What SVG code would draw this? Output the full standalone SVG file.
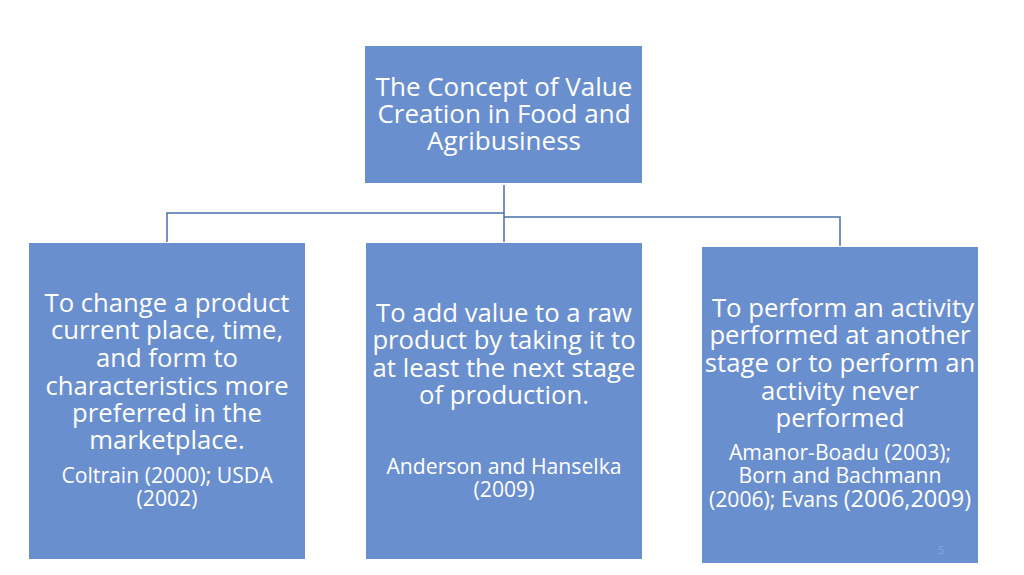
<svg xmlns="http://www.w3.org/2000/svg" width="1024" height="575" viewBox="0 0 1024 575">
<style>
.box{fill:#6a8fcf;}
.t{font-family:"Open Sans","Noto Sans","DejaVu Sans",sans-serif;fill:#ffffff;text-anchor:middle;font-size:25.7px;}
.h{font-size:26px;}
.c{font-family:"Open Sans","Noto Sans","DejaVu Sans",sans-serif;fill:#ffffff;text-anchor:middle;font-size:21.2px;}
.ln{stroke:#4a70aa;stroke-width:1.5;fill:none;}
</style>
<rect width="1024" height="575" fill="#ffffff"/>
<g id="connectors">
<path class="ln" d="M504,185 V242"/>
<path class="ln" d="M504,213 H167 V242"/>
<path class="ln" d="M504,217 H840 V246"/>
</g>
<g id="root">
<rect class="box" x="365" y="46" width="277" height="137"/>
<text class="t h"><tspan x="504" y="96">The Concept of Value</tspan><tspan x="504" y="123">Creation in Food and</tspan><tspan x="504" y="150">Agribusiness</tspan></text>
</g>
<g id="node1">
<rect class="box" x="29" y="243" width="276" height="316"/>
<text class="t"><tspan x="167" y="312">To change a product</tspan><tspan x="167" y="339">current place, time,</tspan><tspan x="167" y="367">and form to</tspan><tspan x="167" y="395">characteristics more</tspan><tspan x="167" y="422">preferred in the</tspan><tspan x="167" y="449">marketplace.</tspan></text>
<text class="c"><tspan x="167" y="483">Coltrain (2000); USDA</tspan><tspan x="167" y="506">(2002)</tspan></text>
</g>
<g id="node2">
<rect class="box" x="366" y="243" width="276" height="316"/>
<text class="t"><tspan x="504" y="322">To add value to a raw</tspan><tspan x="504" y="349">product by taking it to</tspan><tspan x="504" y="377">at least the next stage</tspan><tspan x="504" y="404">of production.</tspan></text>
<text class="c"><tspan x="504" y="474">Anderson and Hanselka</tspan><tspan x="504" y="497">(2009)</tspan></text>
</g>
<g id="node3">
<rect class="box" x="702" y="247" width="276" height="316"/>
<text class="t"><tspan x="843" y="317">To perform an activity</tspan><tspan x="840" y="344">performed at another</tspan><tspan x="840" y="372">stage or to perform an</tspan><tspan x="840" y="400">activity never</tspan><tspan x="840" y="427">performed</tspan></text>
<text class="c"><tspan x="840" y="460">Amanor-Boadu (2003);</tspan><tspan x="840" y="483">Born and Bachmann</tspan><tspan x="840" y="507">(2006); Evans <tspan font-size="23.5px">(2006,2009)</tspan></tspan></text>
<text x="941" y="554" font-family="Open Sans, sans-serif" font-size="10px" fill="#8eaadb" text-anchor="middle">5</text>
</g>
</svg>
